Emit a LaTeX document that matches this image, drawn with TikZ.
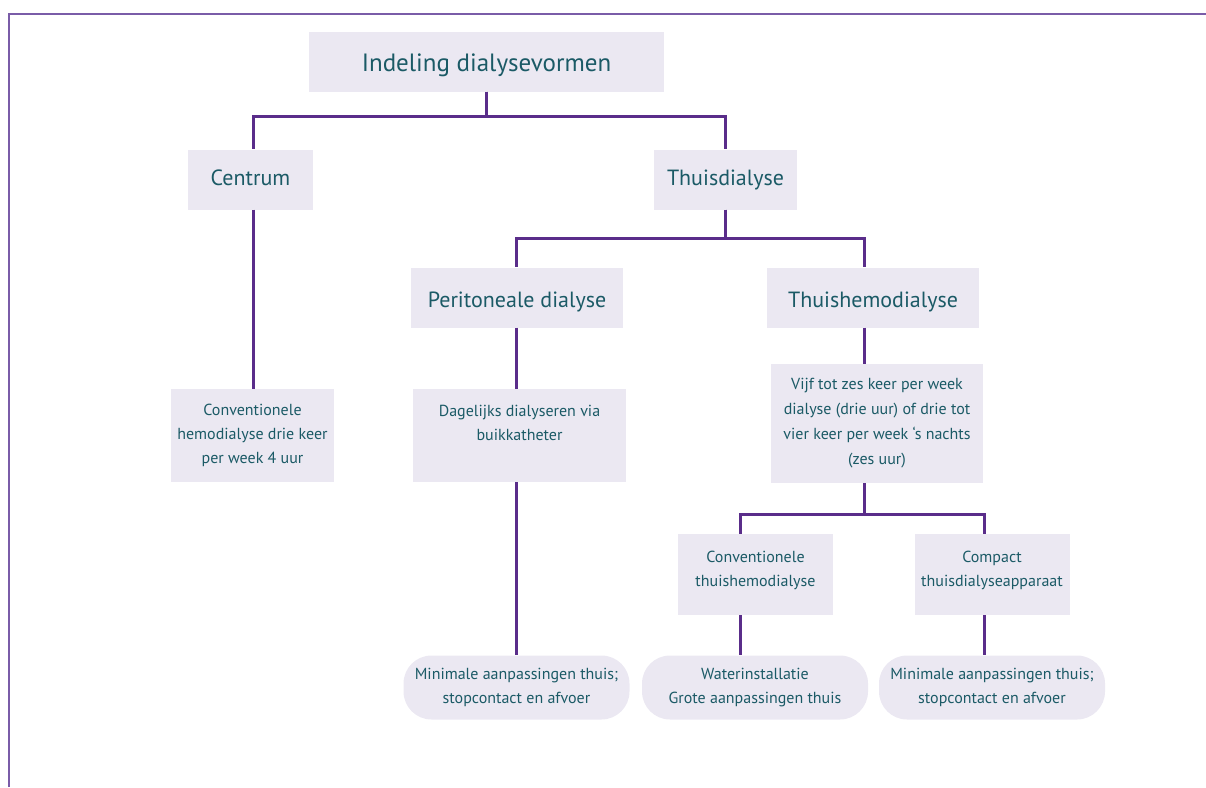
\documentclass[tikz,border=0pt]{standalone}
\usepackage{fontspec}
\setmainfont{PT Sans}
\usetikzlibrary{positioning}
\definecolor{boxfill}{HTML}{EBE8F2}
\definecolor{tealtext}{HTML}{1B5A66}
\definecolor{linkpurple}{HTML}{5A2D8A}
\definecolor{framepurple}{HTML}{7A5CA8}
\tikzstyle{headbox} = [rectangle, fill=boxfill, text=tealtext, minimum height=60pt, inner sep=0pt, font=\fontsize{22}{26}\selectfont, text height=19pt, text depth=0pt]
\tikzstyle{infobox} = [rectangle, fill=boxfill, text=tealtext, inner sep=0pt, align=center, font=\fontsize{16}{24}\selectfont]
\tikzstyle{endbox} = [infobox, rounded corners=28pt, minimum width=226pt, minimum height=64pt]
\tikzstyle{link} = [line width=3pt, draw=linkpurple]

\begin{document}
\begin{tikzpicture}[x=1pt, y=-1pt]
\useasboundingbox (0,0) rectangle (1206,787);
\draw [framepurple, line width=2pt] (9,787) -- (9,14) -- (1206,14);

\node (indeling) [headbox, minimum width=355pt, font=\fontsize{25}{29}\selectfont, text height=20pt] at (486.5,61.5) {Indeling dialysevormen};
\node (centrum) [headbox, minimum width=125pt, text height=16pt, text depth=5pt] at (250.5,179.5) {Centrum};
\node (thuis) [headbox, minimum width=143pt, text height=16pt, text depth=5pt] at (725.5,179.5) {Thuisdialyse};
\node (perit) [headbox, minimum width=212pt] at (517,297.5) {Peritoneale dialyse};
\node (thuishemo) [headbox, minimum width=212pt] at (873,297.5) {Thuishemodialyse};
\node (convhemo) [infobox, minimum width=163pt, minimum height=93pt] at (252.5,435.5) {Conventionele\\hemodialyse drie keer\\per week 4 uur};
\node (dagelijks) [infobox, minimum width=213pt, minimum height=93pt] at (519.5,435.5) {Dagelijks dialyseren via\\buikkatheter\\[-6pt]\strut};
\node (vijf) [infobox, minimum width=212pt, minimum height=119pt, font=\fontsize{16}{25}\selectfont] at (877,423.5) {Vijf tot zes keer per week\\dialyse (drie uur) of drie tot\\vier keer per week ‘s nachts\\(zes uur)};
\node (convthuis) [infobox, minimum width=155pt, minimum height=81pt] at (755.5,574.5) {Conventionele\\thuishemodialyse\\[-20pt]\strut};
\node (compact) [infobox, minimum width=155pt, minimum height=81pt] at (992,574.5) {Compact\\thuisdialyseapparaat\\[-20pt]\strut};
\node (minimaal1) [endbox] at (516.5,687.5) {Minimale aanpassingen thuis;\\stopcontact en afvoer};
\node (water) [endbox] at (755,687.5) {Waterinstallatie\\Grote aanpassingen thuis};
\node (minimaal2) [endbox] at (992,687.5) {Minimale aanpassingen thuis;\\stopcontact en afvoer};

\draw [link] (indeling.south) -- ++(0,24.5) -| ([xshift=2.5pt]centrum.north);
\draw [link] (indeling.south) -- ++(0,24.5) -| (thuis.north);
\draw [link] (thuis.south) -- ++(0,28.5) -| ([xshift=-0.5pt]perit.north);
\draw [link] (thuis.south) -- ++(0,28.5) -| ([xshift=-9pt]thuishemo.north);
\draw [link] ([xshift=3pt]centrum.south) -- ([xshift=1pt]convhemo.north);
\draw [link] ([xshift=-0.5pt]perit.south) -- ([xshift=-3pt]dagelijks.north);
\draw [link] ([xshift=-9pt]thuishemo.south) -- ([xshift=-13pt]vijf.north);
\draw [link] ([xshift=-3pt]dagelijks.south) -- (minimaal1.north);
\draw [link] ([xshift=-13pt]vijf.south) -- ++(0,31) -| ([xshift=-15.5pt]convthuis.north);
\draw [link] ([xshift=-13pt]vijf.south) -- ++(0,31) -| ([xshift=-8pt]compact.north);
\draw [link] ([xshift=-15.5pt]convthuis.south) -- ([xshift=-15pt]water.north);
\draw [link] ([xshift=-8pt]compact.south) -- ([xshift=-8pt]minimaal2.north);
\end{tikzpicture}
\end{document}
